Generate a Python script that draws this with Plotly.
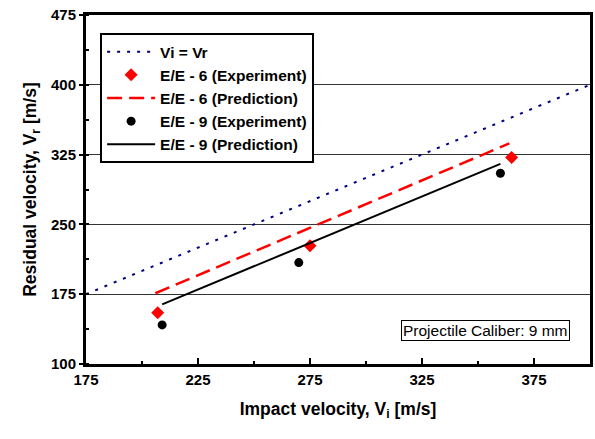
import plotly.graph_objects as go

# Data
ref_x = [175, 400]
ref_y = [175, 400]

ee6_exp_x = [207, 275, 365]
ee6_exp_y = [155, 227, 322]
ee6_pred_x = [206, 275, 364]
ee6_pred_y = [176, 246, 337]

ee9_exp_x = [209, 270, 360]
ee9_exp_y = [142, 209, 305]
ee9_pred_x = [209, 270, 360]
ee9_pred_y = [164, 225, 315]

x_ticks = [175, 225, 275, 325, 375]
y_ticks = [100, 175, 250, 325, 400, 475]

FONT = "Liberation Sans, Arial, sans-serif"

fig = go.Figure()
fig.add_trace(go.Scatter(x=ref_x, y=ref_y, mode="lines", name="<b>Vi = Vr</b>",
                         line=dict(color="#000080", width=2, dash="3px,7px")))
fig.add_trace(go.Scatter(x=ee6_exp_x, y=ee6_exp_y, mode="markers", name="<b>E/E - 6 (Experiment)</b>",
                         marker=dict(symbol="diamond", color="#ff0000", size=10)))
fig.add_trace(go.Scatter(x=ee6_pred_x, y=ee6_pred_y, mode="lines", name="<b>E/E - 6 (Prediction)</b>",
                         line=dict(color="#ff0000", width=2.5, dash="15px,7px")))
fig.add_trace(go.Scatter(x=ee9_exp_x, y=ee9_exp_y, mode="markers", name="<b>E/E - 9 (Experiment)</b>",
                         marker=dict(symbol="circle", color="black", size=9)))
fig.add_trace(go.Scatter(x=ee9_pred_x, y=ee9_pred_y, mode="lines", name="<b>E/E - 9 (Prediction)</b>",
                         line=dict(color="black", width=2)))

fig.update_layout(
    width=595, height=439,
    margin=dict(l=86, r=2, t=15, b=75),
    plot_bgcolor="white", paper_bgcolor="white",
    font=dict(family=FONT, size=15, color="black"),
    showlegend=True,
    legend=dict(x=0.028, y=0.948, xanchor="left", yanchor="top",
                bordercolor="black", borderwidth=2, bgcolor="white",
                font=dict(family=FONT, size=15.5, color="black"),
                traceorder="normal", itemwidth=48),
    xaxis=dict(range=[175, 400], tickmode="array", tickvals=x_ticks,
               ticktext=[f"<b>{v}</b>" for v in x_ticks],
               ticks="inside", ticklen=6, tickwidth=2, tickcolor="black",
               minor=dict(dtick=25, tick0=175, ticks="inside", ticklen=3, tickwidth=1.5, tickcolor="black", showgrid=False),
               showline=True, linecolor="black", linewidth=3, mirror=True,
               showgrid=False, zeroline=False,
               tickfont=dict(family=FONT, size=15),
               title=dict(text="<b>Impact velocity, V<sub>i</sub> [m/s]</b>", font=dict(family=FONT, size=17.5), standoff=16)),
    yaxis=dict(range=[100, 475], tickmode="array", tickvals=y_ticks,
               ticktext=[f"<b>{v}</b>" for v in y_ticks],
               ticks="outside", ticklen=4, tickwidth=1.5, tickcolor="black",
               minor=dict(dtick=37.5, tick0=100, ticks="inside", ticklen=3, tickwidth=1.5, tickcolor="black", showgrid=False),
               showline=True, linecolor="black", linewidth=3, mirror=True,
               showgrid=True, gridcolor="#333333", gridwidth=1, zeroline=False,
               tickfont=dict(family=FONT, size=15),
               title=dict(text="<b>Residual velocity, V<sub>r</sub> [m/s]</b>", font=dict(family=FONT, size=17.5), standoff=10)),
)

fig.add_annotation(text="Projectile Caliber: 9 mm", xref="paper", yref="paper",
                   x=0.9606, y=0.0974, xanchor="right", yanchor="middle",
                   showarrow=False, bordercolor="black", borderwidth=1, borderpad=1,
                   bgcolor="white", font=dict(family=FONT, size=15.5, color="black"))

fig.write_html("out.html")
